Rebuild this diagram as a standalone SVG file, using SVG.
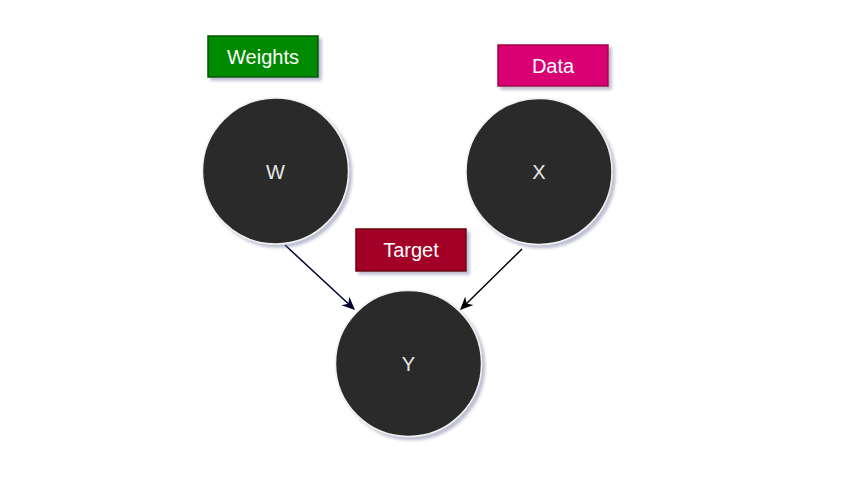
<svg xmlns="http://www.w3.org/2000/svg" width="841" height="491" viewBox="0 0 841 491">
<style>
.node circle{fill:#2a2a2a;stroke:#f0f0f0;stroke-width:1.5;filter:url(#sh)}
.node text{font-family:"Liberation Sans",Arial,sans-serif;font-size:20px;fill:#e8e8e8;text-anchor:middle;dominant-baseline:central}
.lab rect{stroke-width:1.5;filter:url(#sh)}
.lab text{font-family:"Liberation Sans",Arial,sans-serif;font-size:20px;fill:#ffffff;text-anchor:middle;dominant-baseline:central}
.edge{fill:none;stroke-width:1.5}
</style>
<defs>
<filter id="sh" x="-20%" y="-20%" width="150%" height="150%">
<feGaussianBlur in="SourceAlpha" stdDeviation="1.8"/>
<feOffset dx="3" dy="3" result="b"/>
<feFlood flood-color="#6a6f9a" flood-opacity="0.45"/>
<feComposite in2="b" operator="in"/>
<feMerge><feMergeNode/><feMergeNode in="SourceGraphic"/></feMerge>
</filter>
<marker id="a1" viewBox="0 0 10 10" refX="9" refY="5" markerWidth="13" markerHeight="13" markerUnits="userSpaceOnUse" orient="auto"><path d="M0,0.5 L10,5 L0,9.5 L3,5 Z" fill="#000033"/></marker>
<marker id="a2" viewBox="0 0 10 10" refX="9" refY="5" markerWidth="13" markerHeight="13" markerUnits="userSpaceOnUse" orient="auto"><path d="M0,0.5 L10,5 L0,9.5 L3,5 Z" fill="#000000"/></marker>
</defs>
<g id="connectors">
<path class="edge" d="M285,245 L354,309" stroke="#000033" marker-end="url(#a1)"/>
<path class="edge" d="M522,249 L461,309" stroke="#000000" marker-end="url(#a2)"/>
</g>
<g id="weights" class="lab"><rect x="208" y="36" width="110" height="41" fill="#008a00" stroke="#005700"/><text x="263" y="57">Weights</text></g>
<g id="data" class="lab"><rect x="498" y="45" width="110" height="41" fill="#d80073" stroke="#a50040"/><text x="553" y="66">Data</text></g>
<g id="target" class="lab"><rect x="356" y="229" width="110" height="42" fill="#a20025" stroke="#6f0000"/><text x="411" y="250">Target</text></g>
<g id="W" class="node"><circle cx="275.5" cy="171" r="73"/><text x="275.5" y="172">W</text></g>
<g id="X" class="node"><circle cx="539" cy="171.5" r="73"/><text x="539" y="172">X</text></g>
<g id="Y" class="node"><circle cx="408.5" cy="363.5" r="73"/><text x="408.5" y="364">Y</text></g>
</svg>
